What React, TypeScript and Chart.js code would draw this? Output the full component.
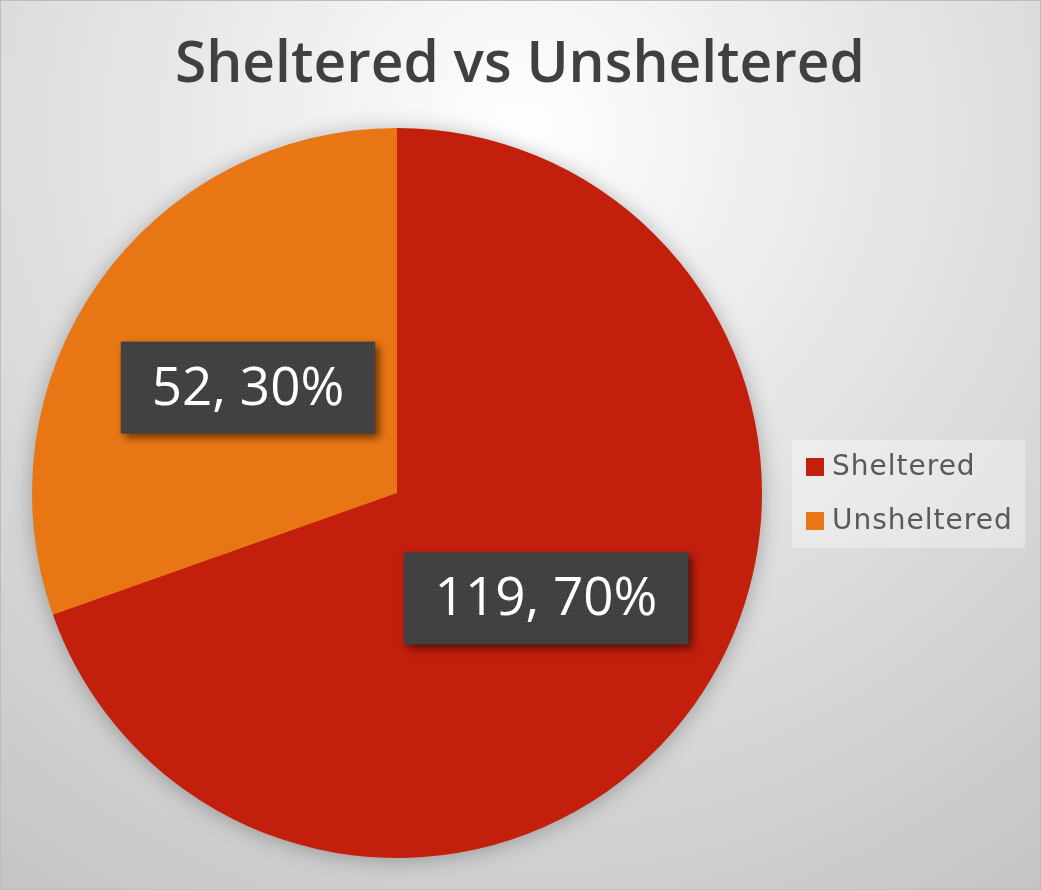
import React, { useEffect, useRef } from "react";
import { Chart, registerables } from "chart.js";

Chart.register(...registerables);

const categories: string[] = ["Sheltered", "Unsheltered"];
const values: number[] = [119, 52];
const sliceColors: string[] = ["#C21F0D", "#E97614"];
const chartTitle = "Sheltered vs Unsheltered";

const W = 1041;
const H = 890;

function makePattern(ctx: CanvasRenderingContext2D) {
  const c = document.createElement("canvas");
  c.width = 4;
  c.height = 4;
  const p = c.getContext("2d")!;
  p.fillStyle = "#404040";
  p.fillRect(0, 0, 4, 4);
  p.fillStyle = "rgba(255,255,255,0.10)";
  p.fillRect(1, 1, 1, 1);
  return ctx.createPattern(c, "repeat") || "#404040";
}

const decorPlugin = {
  id: "decor",
  beforeDatasetsDraw(chart: any) {
    const meta = chart.getDatasetMeta(0);
    const arc = meta.data[0];
    if (!arc) return;
    const { x, y, outerRadius } = arc.getProps(["x", "y", "outerRadius"], true);
    const ctx = chart.ctx;
    ctx.save();
    ctx.shadowColor = "rgba(0,0,0,0.30)";
    ctx.shadowBlur = 22;
    ctx.shadowOffsetX = 0;
    ctx.shadowOffsetY = 2;
    ctx.fillStyle = "#C21F0D";
    ctx.beginPath();
    ctx.arc(x, y, outerRadius - 1, 0, Math.PI * 2);
    ctx.fill();
    ctx.restore();
  },
  afterDatasetsDraw(chart: any) {
    const ctx: CanvasRenderingContext2D = chart.ctx;
    const meta = chart.getDatasetMeta(0);
    const data: number[] = chart.data.datasets[0].data;
    const total = data.reduce((a, b) => a + b, 0);
    const pattern = makePattern(ctx);
    meta.data.forEach((arc: any, i: number) => {
      const { x, y } = arc.getCenterPoint();
      const pct = Math.round((data[i] / total) * 100);
      const text = `${data[i]}, ${pct}%`;
      ctx.save();
      ctx.font = "500 53px 'Open Sans'";
      const tw = ctx.measureText(text).width;
      const bw = tw + 62;
      const bh = 92;
      ctx.shadowColor = "rgba(0,0,0,0.55)";
      ctx.shadowBlur = 8;
      ctx.shadowOffsetX = 4;
      ctx.shadowOffsetY = 4;
      ctx.fillStyle = pattern as any;
      ctx.fillRect(x - bw / 2, y - bh / 2, bw, bh);
      ctx.restore();
      ctx.save();
      ctx.font = "500 53px 'Open Sans'";
      ctx.fillStyle = "#ffffff";
      ctx.textAlign = "center";
      ctx.textBaseline = "middle";
      ctx.fillText(text, x, y + 2);
      ctx.restore();
    });

    // title
    ctx.save();
    ctx.font = "600 58px 'Open Sans'";
    ctx.fillStyle = "#404040";
    ctx.textAlign = "center";
    ctx.textBaseline = "alphabetic";
    const tw = ctx.measureText(chartTitle).width;
    const target = 690;
    ctx.translate(520, 82);
    ctx.scale(target / tw, 1);
    ctx.fillText(chartTitle, 0, 0);
    ctx.restore();

    // legend
    const labels: string[] = chart.data.labels;
    const colors: string[] = chart.data.datasets[0].backgroundColor;
    ctx.save();
    ctx.fillStyle = "rgba(255,255,255,0.35)";
    ctx.fillRect(792, 440, 233, 108);
    ctx.font = "28px 'DejaVu Sans'";
    (ctx as any).letterSpacing = "1px";
    ctx.textBaseline = "middle";
    ctx.textAlign = "left";
    labels.forEach((lab, i) => {
      const cy = 467 + i * 54;
      ctx.fillStyle = colors[i];
      ctx.fillRect(806, cy - 9, 18, 18);
      ctx.fillStyle = "#595959";
      ctx.fillText(lab, 832, cy + 1);
    });
    ctx.restore();
  },
};

export default function App() {
  const ref = useRef<HTMLCanvasElement | null>(null);
  useEffect(() => {
    document.body.style.margin = "0";
    if (!ref.current) return;
    const chart = new Chart(ref.current, {
      type: "pie",
      data: {
        labels: categories,
        datasets: [
          {
            data: values,
            backgroundColor: sliceColors,
            borderWidth: 0,
          },
        ],
      },
      options: {
        responsive: false,
        animation: false,
        layout: { padding: { top: 128, bottom: 32, left: 32, right: 279 } },
        plugins: {
          legend: { display: false },
          tooltip: { enabled: false },
          title: { display: false },
        },
      },
      plugins: [decorPlugin],
    });
    return () => chart.destroy();
  }, []);
  return (
    <div
      style={{
        position: "absolute",
        left: 0,
        top: 0,
        width: W,
        height: H,
        background:
          "radial-gradient(circle farthest-corner at 50% 15%, #ffffff 0%, #efefef 25%, #c4c4c4 100%)",
        boxShadow: "inset 0 0 0 1px #bdbdbd",
      }}
    >
      <canvas ref={ref} width={W} height={H} style={{ display: "block" }} />
    </div>
  );
}
